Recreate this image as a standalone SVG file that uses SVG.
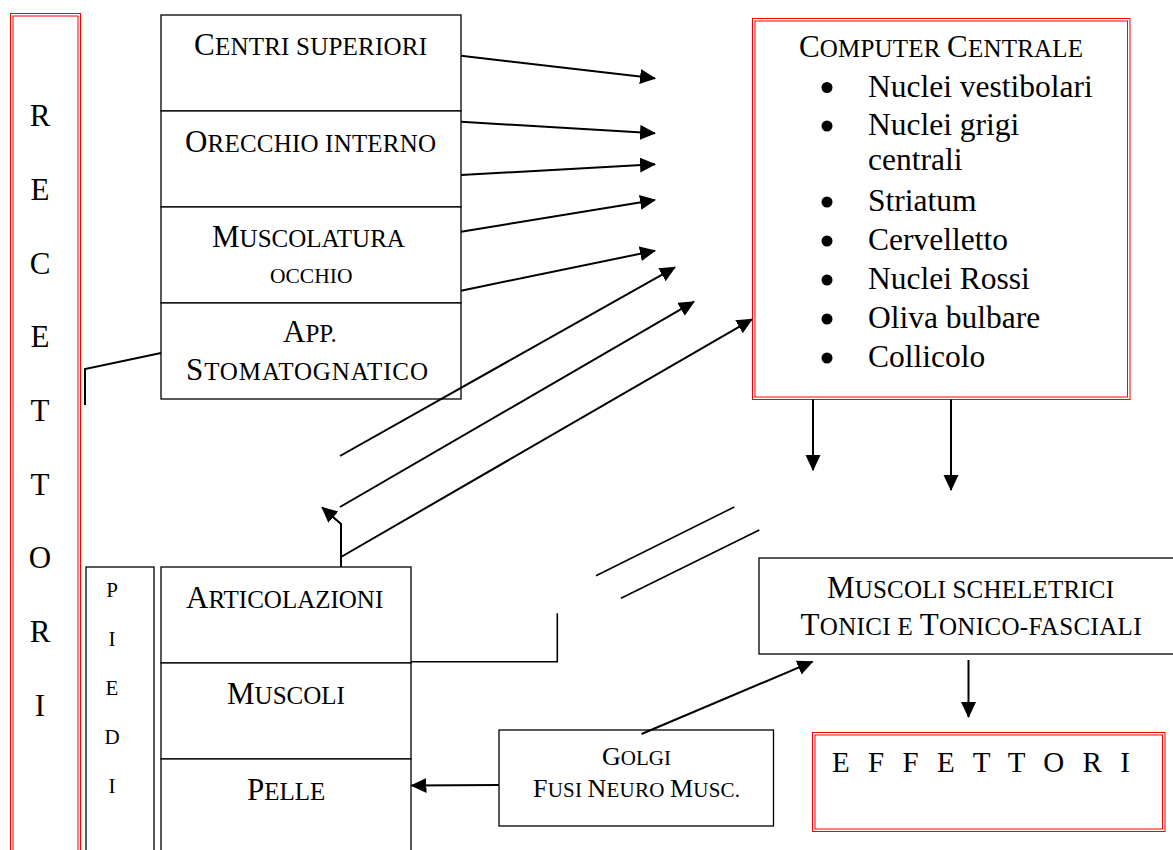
<svg xmlns="http://www.w3.org/2000/svg" width="1173" height="850" viewBox="0 0 1173 850">
<style>
text{font-family:"Liberation Serif","Times New Roman",serif;fill:#000}
.box{fill:#fff;stroke:#000;stroke-width:1.3}
.red{fill:none;stroke:#f00;stroke-width:1}
.cn{fill:none;stroke:#000;stroke-width:2}
.ln{fill:none;stroke:#000;stroke-width:1.6}
.big{font-size:31px}
.sm{font-size:25px}
.gb{font-size:26px}
.gs{font-size:21px}
.item{font-size:31.5px}
</style>
<defs>
<marker id="ah" markerUnits="userSpaceOnUse" markerWidth="18" markerHeight="16" refX="15" refY="7.5" orient="auto"><path d="M0,0 L16,7.5 L0,15 Z" fill="#000"/></marker>
</defs>
<rect width="1173" height="850" fill="#fff"/>

<g id="recettori">
<rect class="red" x="10.5" y="13.5" width="70" height="850"/>
<rect class="red" x="13" y="16" width="65" height="850"/>
<g font-size="31" text-anchor="middle">
<text x="40" y="126">R</text>
<text x="40" y="200">E</text>
<text x="40" y="273.5">C</text>
<text x="40" y="347">E</text>
<text x="40" y="421">T</text>
<text x="40" y="495">T</text>
<text x="40" y="568">O</text>
<text x="40" y="642">R</text>
<text x="40" y="716">I</text>
</g>
</g>

<g id="top-stack">
<rect class="box" x="161" y="15" width="300" height="96"/>
<rect class="box" x="161" y="111" width="300" height="96"/>
<rect class="box" x="161" y="207" width="300" height="96"/>
<rect class="box" x="161" y="303" width="300" height="96"/>
<text x="194" y="55" textLength="233" lengthAdjust="spacing"><tspan class="big">C</tspan><tspan class="sm">ENTRI SUPERIORI</tspan></text>
<text x="185" y="152" textLength="251" lengthAdjust="spacing"><tspan class="big">O</tspan><tspan class="sm">RECCHIO INTERNO</tspan></text>
<text x="212" y="247"><tspan class="big">M</tspan><tspan class="sm">USCOLATURA</tspan></text>
<text x="270" y="283" font-size="21.5">OCCHIO</text>
<text x="283" y="342"><tspan class="big">A</tspan><tspan class="sm">PP.</tspan></text>
<text x="186" y="380" textLength="242" lengthAdjust="spacing"><tspan class="big">S</tspan><tspan class="sm">TOMATOGNATICO</tspan></text>
</g>

<g id="computer-centrale">
<rect class="red" x="752.5" y="18.5" width="377.5" height="381" fill="#fff"/>
<rect class="red" x="755" y="21" width="372.5" height="376"/>
<text x="799" y="57" textLength="284" lengthAdjust="spacing"><tspan class="big">C</tspan><tspan class="sm">OMPUTER </tspan><tspan class="big">C</tspan><tspan class="sm">ENTRALE</tspan></text>
<g fill="#000">
<circle cx="827" cy="87.5" r="5.5"/>
<circle cx="827" cy="126" r="5.5"/>
<circle cx="827" cy="202" r="5.5"/>
<circle cx="827" cy="241" r="5.5"/>
<circle cx="827" cy="280" r="5.5"/>
<circle cx="827" cy="319" r="5.5"/>
<circle cx="827" cy="358" r="5.5"/>
</g>
<text class="item" x="868" y="97">Nuclei vestibolari</text>
<text class="item" x="868" y="135">Nuclei grigi</text>
<text class="item" x="868" y="170">centrali</text>
<text class="item" x="868" y="211">Striatum</text>
<text class="item" x="868" y="250">Cervelletto</text>
<text class="item" x="868" y="289">Nuclei Rossi</text>
<text class="item" x="868" y="328">Oliva bulbare</text>
<text class="item" x="868" y="367">Collicolo</text>
</g>

<g id="piedi">
<rect class="box" x="86" y="567" width="68" height="300"/>
<g font-size="21" text-anchor="middle">
<text x="112" y="597">P</text>
<text x="112" y="646">I</text>
<text x="112" y="695">E</text>
<text x="112" y="744">D</text>
<text x="112" y="793">I</text>
</g>
</g>

<g id="bottom-stack">
<rect class="box" x="161" y="567" width="250" height="96"/>
<rect class="box" x="161" y="663" width="250" height="96"/>
<rect class="box" x="161" y="759" width="250" height="110"/>
<text x="186" y="608"><tspan class="big">A</tspan><tspan class="sm">RTICOLAZIONI</tspan></text>
<text x="227" y="704"><tspan class="big">M</tspan><tspan class="sm">USCOLI</tspan></text>
<text x="247" y="800"><tspan class="big">P</tspan><tspan class="sm">ELLE</tspan></text>
</g>

<g id="muscoli-scheletrici">
<rect class="box" x="759" y="558" width="430" height="96"/>
<text x="827" y="598" textLength="287" lengthAdjust="spacing"><tspan class="big">M</tspan><tspan class="sm">USCOLI SCHELETRICI</tspan></text>
<text x="800.5" y="635" textLength="341" lengthAdjust="spacing"><tspan class="big">T</tspan><tspan class="sm">ONICI E </tspan><tspan class="big">T</tspan><tspan class="sm">ONICO-FASCIALI</tspan></text>
</g>

<g id="golgi">
<rect class="box" x="499" y="730" width="274.5" height="96"/>
<text x="602" y="765"><tspan class="gb">G</tspan><tspan class="gs">OLGI</tspan></text>
<text x="533" y="797" textLength="207" lengthAdjust="spacing"><tspan class="gb">F</tspan><tspan class="gs">USI </tspan><tspan class="gb">N</tspan><tspan class="gs">EURO </tspan><tspan class="gb">M</tspan><tspan class="gs">USC.</tspan></text>
</g>

<g id="effettori">
<rect class="red" x="812.5" y="732.5" width="352.5" height="99"/>
<rect class="red" x="815" y="735" width="347.5" height="94"/>
<text x="832" y="772" font-size="29" textLength="298" lengthAdjust="spacing">E F F E T T O R I</text>
</g>

<g id="connectors">
<polyline class="cn" points="85,405 85,369 161,353"/>
<line class="cn" x1="461" y1="55.7" x2="655" y2="78.3" marker-end="url(#ah)"/>
<line class="cn" x1="461" y1="121.7" x2="655" y2="133.3" marker-end="url(#ah)"/>
<line class="cn" x1="461" y1="175" x2="655" y2="164.3" marker-end="url(#ah)"/>
<line class="cn" x1="461" y1="231.7" x2="655" y2="200" marker-end="url(#ah)"/>
<line class="cn" x1="461" y1="290.7" x2="655" y2="250.7" marker-end="url(#ah)"/>
<line class="cn" x1="340" y1="456" x2="675" y2="267.3" marker-end="url(#ah)"/>
<line class="cn" x1="340" y1="507" x2="694" y2="301.7" marker-end="url(#ah)"/>
<line class="cn" x1="341" y1="557" x2="752" y2="319.3" marker-end="url(#ah)"/>
<polyline class="cn" points="341,567 341,524 322,507.3" marker-end="url(#ah)"/>
<line class="ln" x1="596" y1="575.7" x2="734.3" y2="507"/>
<line class="ln" x1="621" y1="598.3" x2="759.3" y2="530"/>
<polyline class="ln" points="411,661.7 557.3,661.7 557.3,613.3"/>
<line class="cn" x1="813" y1="399" x2="813" y2="470" marker-end="url(#ah)"/>
<line class="cn" x1="951" y1="399" x2="951" y2="490" marker-end="url(#ah)"/>
<line class="cn" x1="968.5" y1="660" x2="968.5" y2="717" marker-end="url(#ah)"/>
<line class="cn" x1="641.5" y1="734" x2="812.5" y2="661.7" marker-end="url(#ah)"/>
<line class="cn" x1="499" y1="785" x2="411.5" y2="785.5" marker-end="url(#ah)"/>
</g>
</svg>
